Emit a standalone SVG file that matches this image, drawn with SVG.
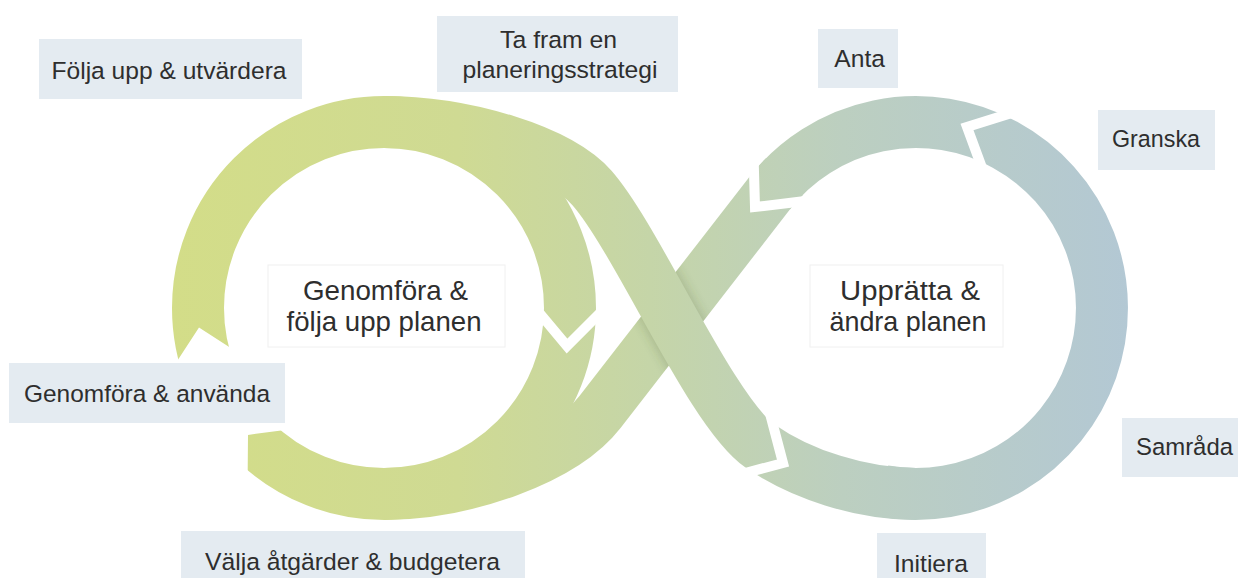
<svg xmlns="http://www.w3.org/2000/svg" width="1238" height="578" viewBox="0 0 1238 578">
<defs>
<linearGradient id="g" gradientUnits="userSpaceOnUse" x1="170" y1="0" x2="1130" y2="0">
<stop offset="0" stop-color="#d3dd88"/>
<stop offset="0.3" stop-color="#cfda93"/>
<stop offset="0.5" stop-color="#c5d5a8"/>
<stop offset="0.7" stop-color="#bccfc0"/>
<stop offset="1" stop-color="#b3c8d4"/>
</linearGradient>
<filter id="blur" x="-20%" y="-20%" width="140%" height="140%"><feGaussianBlur stdDeviation="4"/></filter>
<mask id="mA" maskUnits="userSpaceOnUse" x="0" y="0" width="1238" height="578">
<path d="M784.5,176.5 A186 186 0 0 0 769.4,193.5 L600,412 C563.2,459.4 464,494 384,494" fill="none" stroke="#fff" stroke-width="52"/>
</mask>
<style>
.band{fill:none;stroke:url(#g);stroke-width:52}
.gap{fill:none;stroke:#fff;stroke-width:10;stroke-linejoin:miter;stroke-miterlimit:10}
.erase{fill:#fff}
.box{fill:#e4ebf1}
.cbox{fill:#fff;stroke:#f0f0f0;stroke-width:1}
text{font-family:"Liberation Sans",Arial,sans-serif;fill:#2e2e2e;text-anchor:middle}
.lbl{font-size:24.5px}
.ctr{font-size:27.5px}
</style>
</defs>
<rect width="1238" height="578" fill="#fff"/>
<g id="connectors">
<circle class="band" cx="384" cy="308" r="186"/>
<path class="band" d="M769.4,193.5 A186 186 0 1 1 883.7,491.2"/>
<path class="band" d="M784.5,176.5 A186 186 0 0 0 769.4,193.5 L600,412 C563.2,459.4 464,494 384,494"/>
<path d="M384,122 C465,122 559,150.5 592,188 C638,240.5 711,412 760,446 C801,474.5 861,494 916,494" fill="none" stroke="#4f6030" stroke-opacity="0.2" stroke-width="58" filter="url(#blur)" mask="url(#mA)"/>
<path class="band" d="M384,122 C465,122 559,150.5 592,188 C638,240.5 711,412 760,446 C801,474.5 861,494 916,494"/>
<polygon class="erase" points="170.1,371.9 178.3,359.3 199,327.4 228.8,346.7 241.4,354.9 296,428.7 281.2,430.6 248,434.9 247.7,470.4 247.6,485 180,470"/>
<polyline class="gap" points="531,303 567,346 609,304"/>
<polyline class="gap" points="1021,110 967,127 985.5,177.3"/>
<polyline class="gap" points="753.4,151 755,207 805.2,201"/>
<polyline class="gap" points="768,406 783,463 734,476"/>
</g>
<g id="n-folja-upp">
<rect class="box" x="39" y="39" width="263" height="60"/>
<text class="lbl" x="169" y="79" textLength="235" lengthAdjust="spacingAndGlyphs">Följa upp &amp; utvärdera</text>
</g>
<g id="n-ta-fram">
<rect class="box" x="437" y="16" width="241" height="76"/>
<text class="lbl" x="558.6" y="48" textLength="117" lengthAdjust="spacingAndGlyphs">Ta fram en</text>
<text class="lbl" x="560" y="77.5" textLength="195" lengthAdjust="spacingAndGlyphs">planeringsstrategi</text>
</g>
<g id="n-anta">
<rect class="box" x="818" y="29" width="80" height="59"/>
<text class="lbl" x="859.6" y="66.7" textLength="50.6" lengthAdjust="spacingAndGlyphs">Anta</text>
</g>
<g id="n-granska">
<rect class="box" x="1098" y="110" width="117" height="60"/>
<text class="lbl" x="1156" y="147" textLength="88" lengthAdjust="spacingAndGlyphs">Granska</text>
</g>
<g id="n-samrada">
<rect class="box" x="1122" y="418" width="116" height="59"/>
<text class="lbl" x="1184.5" y="454.5" textLength="97" lengthAdjust="spacingAndGlyphs">Samråda</text>
</g>
<g id="n-initiera">
<rect class="box" x="877" y="533" width="109" height="45"/>
<text class="lbl" x="931" y="572" textLength="74" lengthAdjust="spacingAndGlyphs">Initiera</text>
</g>
<g id="n-valja">
<rect class="box" x="181" y="531" width="344" height="47"/>
<text class="lbl" x="352.5" y="569.5" textLength="295" lengthAdjust="spacingAndGlyphs">Välja åtgärder &amp; budgetera</text>
</g>
<g id="n-genomfora-anvanda">
<rect class="box" x="9" y="363" width="276" height="60"/>
<text class="lbl" x="147" y="402" textLength="246" lengthAdjust="spacingAndGlyphs">Genomföra &amp; använda</text>
</g>
<g id="n-genomfora-folja">
<rect class="cbox" x="268" y="265" width="237" height="82"/>
<text class="ctr" x="385.5" y="299.5" textLength="165" lengthAdjust="spacingAndGlyphs">Genomföra &amp;</text>
<text class="ctr" x="384" y="331" textLength="195" lengthAdjust="spacingAndGlyphs">följa upp planen</text>
</g>
<g id="n-uppratta">
<rect class="cbox" x="810" y="265" width="193" height="82"/>
<text class="ctr" x="910" y="299.5" textLength="140" lengthAdjust="spacingAndGlyphs">Upprätta &amp;</text>
<text class="ctr" x="908" y="331" textLength="157" lengthAdjust="spacingAndGlyphs">ändra planen</text>
</g>
</svg>
